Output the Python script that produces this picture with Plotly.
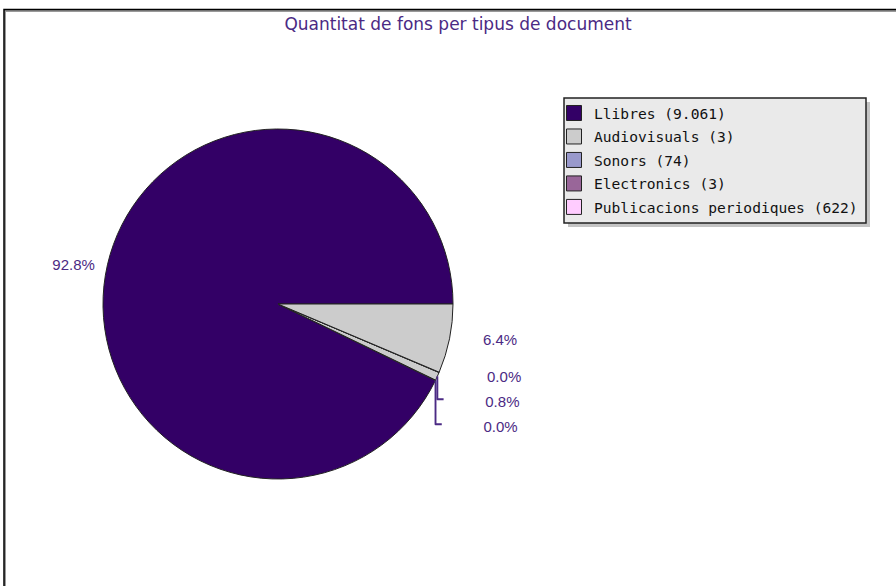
import plotly.graph_objects as go

# %%
categories = ["Llibres", "Audiovisuals", "Sonors", "Electronics", "Publicacions periodiques"]
counts = [9061, 3, 74, 3, 622]
count_labels = ["9.061", "3", "74", "3", "622"]

# legend swatch colours (as in the legend box)
legend_colors = ["#330066", "#cccccc", "#9999cc", "#996699", "#ffccff"]
# slice colours as they appear on the pie (small slices all show grey)
slice_colors = ["#330066", "#cccccc", "#cccccc", "#cccccc", "#cccccc"]

title_color = "#4b2a84"
W, H = 896, 586


def px_x(x):
    return x / W


def px_y(y):
    return 1 - y / H


# first slice starts at 3 o'clock and runs counterclockwise
first_share = counts[0] / sum(counts)
rotation = 90 + 360 * (1 - first_share)

# labels sit a bit away from the rim; the tiny slices get some extra room
nb = "\u00a0"
gap = "<span style='font-size:22px'>" + nb + "</span>"
templates = [
    "%{percent:.1%}" + nb * 2,
    nb * 10 + "%{percent:.1%}" + gap,
    nb * 10 + "%{percent:.1%}" + gap,
    nb * 10 + "%{percent:.1%}" + gap,
    nb * 7 + "%{percent:.1%}",
]

fig = go.Figure()

fig.add_trace(
    go.Pie(
        labels=categories,
        values=counts,
        sort=False,
        direction="counterclockwise",
        rotation=rotation,
        marker=dict(colors=slice_colors, line=dict(color="#222222", width=1)),
        textposition="outside",
        texttemplate=templates,
        textfont=dict(family="Liberation Sans", size=15, color=title_color),
        domain=dict(x=[px_x(103), px_x(453)], y=[px_y(479), px_y(129)]),
        showlegend=False,
        automargin=False,
    )
)

# legend entries
for i, (name, c) in enumerate(zip(categories, count_labels)):
    fig.add_trace(
        go.Scatter(
            x=[None],
            y=[None],
            mode="markers",
            name=f"{name} ({c})",
            legendgroup=f"g{i}",
            marker=dict(symbol="square", size=15, color=legend_colors[i],
                        line=dict(color="#222222", width=1)),
        )
    )

fig.update_layout(
    width=W,
    height=H,
    margin=dict(l=0, r=0, t=0, b=0),
    paper_bgcolor="white",
    plot_bgcolor="white",
    xaxis=dict(visible=False),
    yaxis=dict(visible=False),
    title=dict(
        text="Quantitat de fons per tipus de document",
        x=px_x(458), xanchor="center",
        y=px_y(24), yanchor="middle",
        font=dict(family="DejaVu Sans", size=17, color=title_color),
    ),
    legend=dict(
        x=px_x(554), y=px_y(97),
        xanchor="left", yanchor="top",
        bgcolor="rgba(0,0,0,0)",
        borderwidth=0,
        traceorder="grouped",
        tracegroupgap=1.5,
        font=dict(family="DejaVu Sans Mono", size=14.6, color="#111111"),
    ),
    shapes=[
        # outer frame
        dict(type="rect", xref="paper", yref="paper",
             x0=px_x(5), x1=1.2, y0=-0.2, y1=px_y(11),
             line=dict(color="#999999", width=2)),
        dict(type="rect", xref="paper", yref="paper",
             x0=px_x(4), x1=1.2, y0=-0.2, y1=px_y(9.5),
             line=dict(color="#000000", width=1.5)),
        # legend box shadow + box
        dict(type="rect", xref="paper", yref="paper", layer="below",
             x0=px_x(568), x1=px_x(870), y0=px_y(227), y1=px_y(102),
             fillcolor="#c4c4c4", line=dict(width=0)),
        dict(type="rect", xref="paper", yref="paper", layer="below",
             x0=px_x(564), x1=px_x(866), y0=px_y(223), y1=px_y(98),
             fillcolor="#eaeaea", line=dict(color="#222222", width=1.5)),
    ],
)

fig.write_html(
    "out.html",
    config={"displayModeBar": False},
    post_script="document.body.style.margin='0';",
)
